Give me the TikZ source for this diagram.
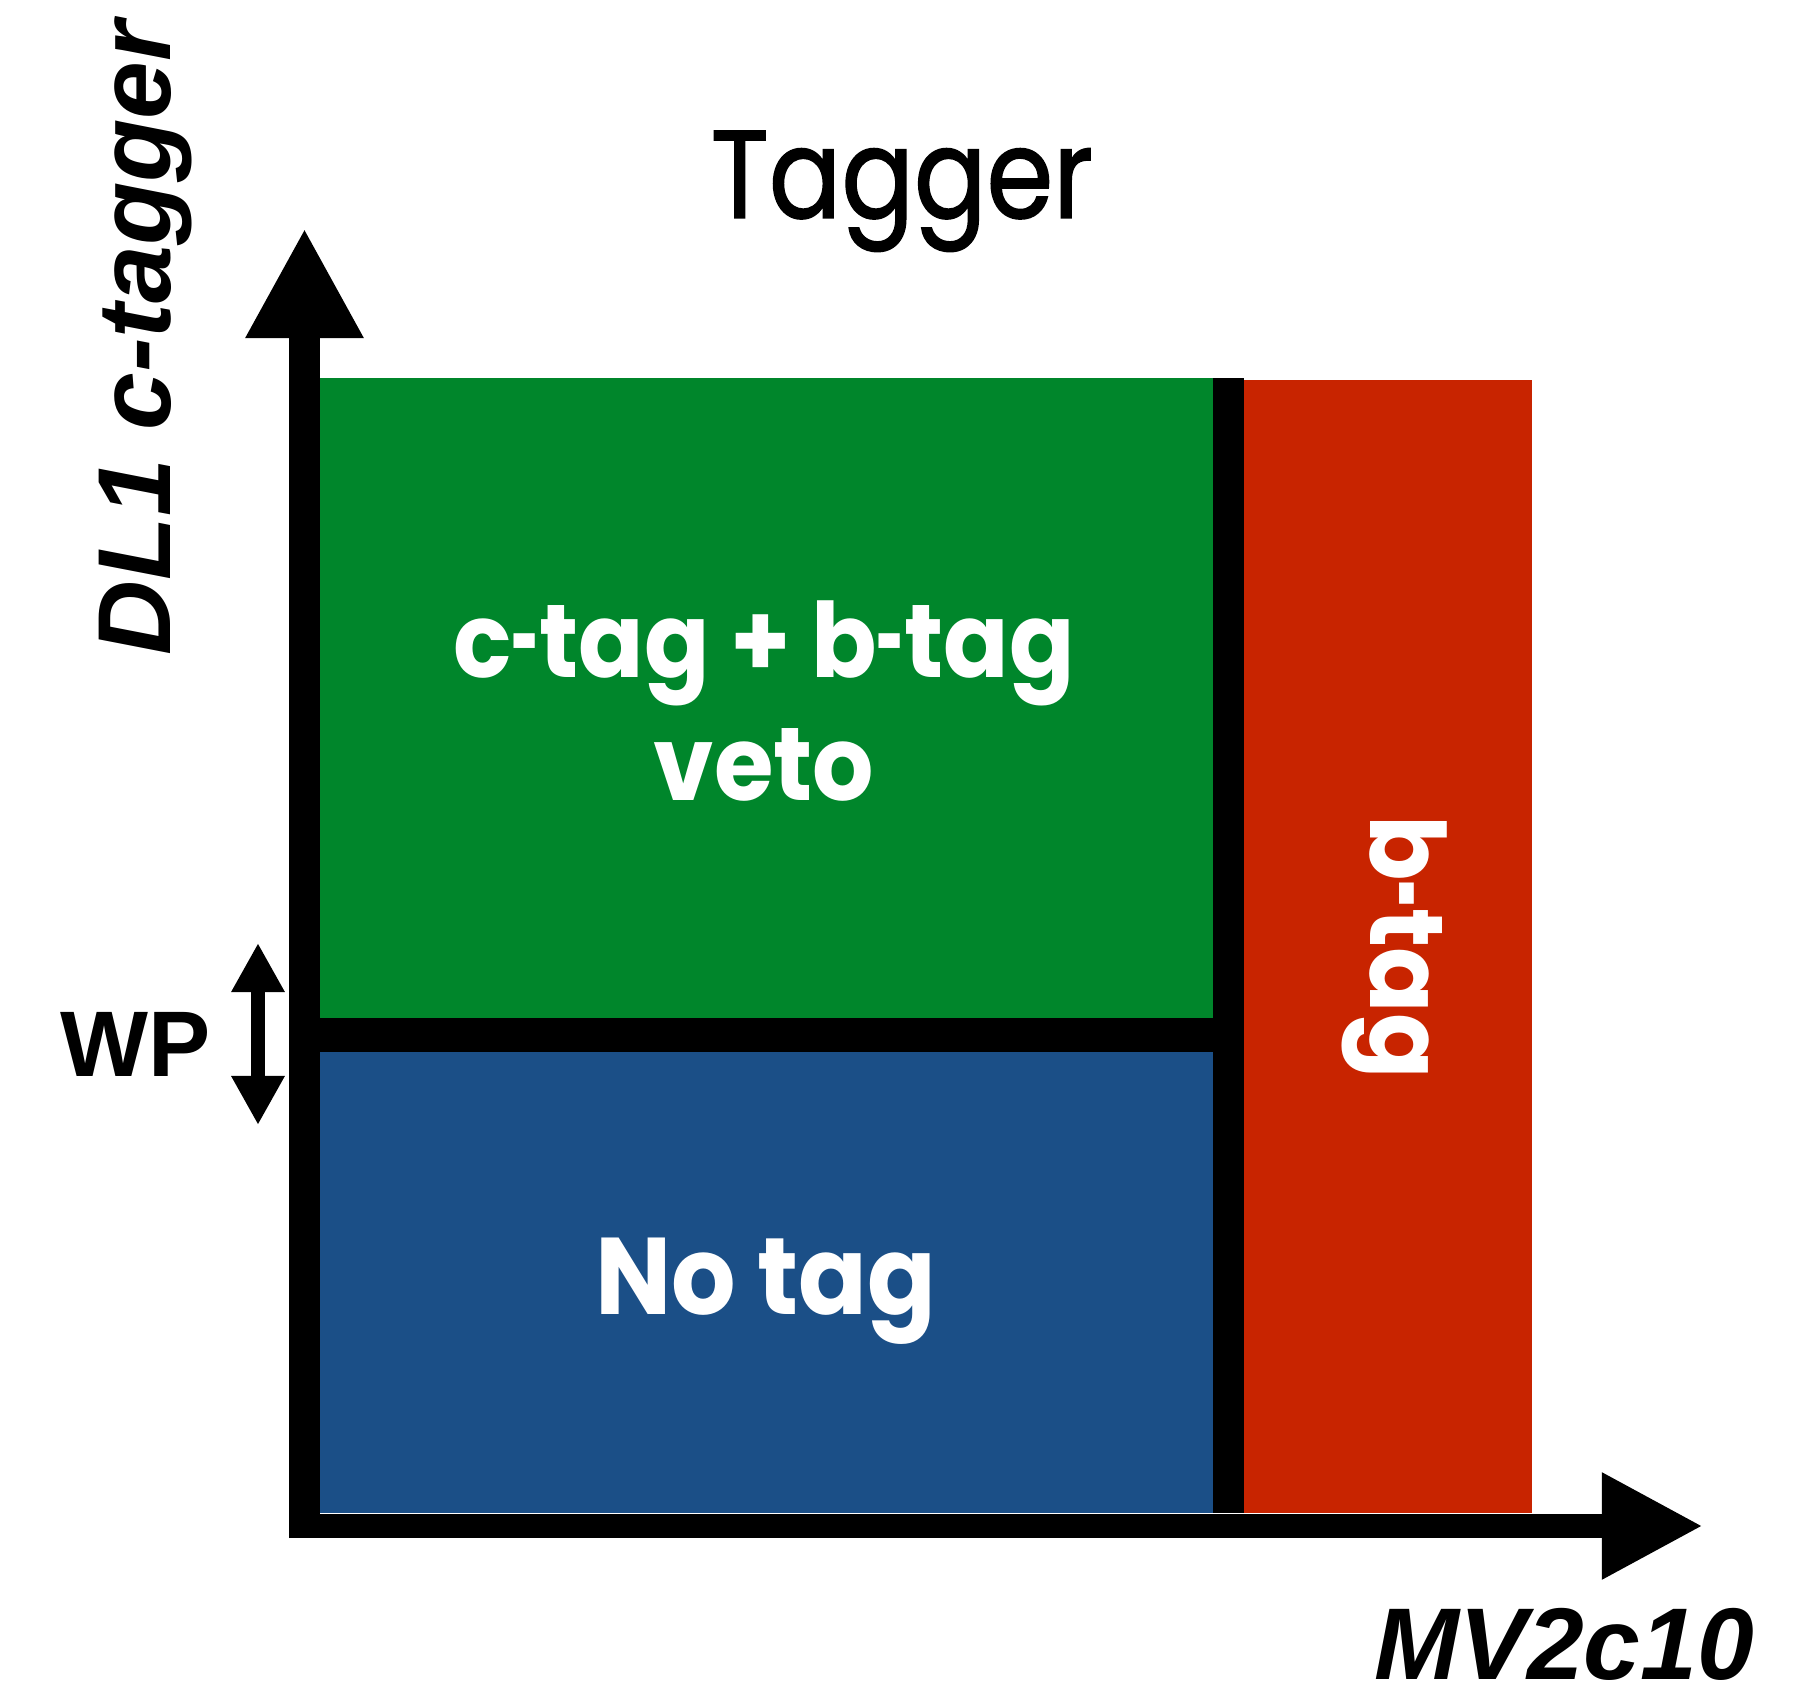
\documentclass[tikz,border=0pt]{standalone}
\usepackage{fontspec}
\setmainfont{Liberation Sans}
\newfontfamily\geofont[FakeStretch=0.93]{Poppins}
\newfontfamily\titlefont[FakeStretch=0.86,FakeBold=1.2]{Poppins}
\usetikzlibrary{arrows.meta}
\definecolor{ctaggreen}{RGB}{0,134,43}
\definecolor{notagblue}{RGB}{27,79,135}
\definecolor{btagred}{RGB}{200,36,0}
\newcommand\taghy{\scalebox{0.5}[1]{-}}

\begin{document}
\begin{tikzpicture}[x=0.01cm,y=-0.01cm,
  axislabel/.style={font=\fontsize{29.5}{36}\selectfont\bfseries\itshape,inner sep=0pt},
  region/.style={text=white,font=\geofont\fontsize{29.5}{35}\selectfont\bfseries,inner sep=0pt},
  yaxis/.style={line width=0.31cm,-{Triangle[length=1.1cm,width=1.1cm]}},
  xaxis/.style={line width=0.24cm,-{Triangle[length=1.01cm,width=1cm]}},
  wparrow/.style={line width=0.13cm,{Triangle[length=0.49cm,width=0.5cm]}-{Triangle[length=0.49cm,width=0.5cm]}}]
\useasboundingbox[fill=white] (0,0) rectangle (1799,1688);
\fill[ctaggreen] (320,378) rectangle (1213,1018);
\fill[notagblue] (320,1052) rectangle (1213,1513);
\fill[btagred] (1244,380) rectangle (1532,1513);
\fill (320,1018) rectangle (1213,1052);
\fill (1213,378) rectangle (1244,1513);
\coordinate (ybot) at (304.5,1538);
\coordinate (ytip) at (304.5,228);
\coordinate (xleft) at (289,1526);
\coordinate (xtip) at (1703,1526);
\coordinate (wptop) at (258,943);
\coordinate (wpbot) at (258,1125);
\draw[yaxis] (ybot) -- (ytip);
\draw[xaxis] (xleft) -- (xtip);
\draw[wparrow] (wptop) -- (wpbot);
\node (title) [font=\titlefont\fontsize{35.5}{42}\selectfont,inner sep=0pt,anchor=base] at (902,218) {Tagger};
\node (ctag) [region,anchor=base] at (764,677) {c\taghy tag + b\taghy tag};
\node (veto) [region,anchor=base] at (764,800) {veto};
\node (notag) [region,font=\geofont\fontsize{31}{36}\selectfont\bfseries,anchor=base] at (766,1314) {No tag};
\node (btag) [region,rotate=-90,anchor=base] at (1370,947) {b\taghy tag};
\node (yname) [axislabel,rotate=90,anchor=base] at (170,338) {DL1 c-tagger};
\node (xname) [axislabel,font=\fontsize{29}{35}\selectfont\bfseries\itshape,anchor=base] at (1564,1679) {MV2c10};
\node (wp) [font=\fontsize{26.5}{32}\selectfont\bfseries,inner sep=0pt,anchor=base] at (136,1076) {WP};
\end{tikzpicture}
\end{document}
